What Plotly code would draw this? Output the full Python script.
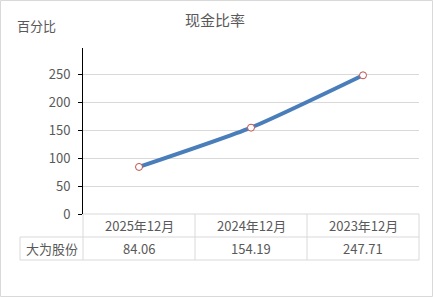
import plotly.graph_objects as go

categories = ["2025年12月", "2024年12月", "2023年12月"]
values = [84.06, 154.19, 247.71]
series_name = "大为股份"
title_text = "现金比率"
y_title = "百分比"
y_ticks = [0, 50, 100, 150, 200, 250]

W, H = 433, 297
L, R, T, B = 83, 14, 48, 83
PW, PH = W - L - R, H - T - B
YMAX = 296.5

FONT = "Noto Sans CJK SC, Microsoft YaHei, sans-serif"
TXT = "#595959"
GRID = "#d9d9d9"

def px_x(p):
    return (p - L) / PW

def px_y(p):
    return (H - B - p) / PH

fig = go.Figure()
fig.add_trace(go.Scatter(
    x=categories, y=values, mode="lines+markers", name=series_name,
    line=dict(color="#4a7ebb", width=4, shape="spline", smoothing=0.6),
    marker=dict(size=7, color="white", line=dict(color="#c0504d", width=1)),
    showlegend=False, hoverinfo="skip",
))

shapes = []
n = len(categories)
row1_top, row1_bot, row2_bot = H - B, H - B + 23, H - B + 46
left_px = 20
line = dict(color=GRID, width=1)
shapes.append(dict(type="line", xref="paper", yref="paper", x0=0, x1=1,
                   y0=px_y(row1_top), y1=px_y(row1_top), line=line))
for yy in (row1_bot, row2_bot):
    shapes.append(dict(type="line", xref="paper", yref="paper", x0=px_x(left_px), x1=1,
                       y0=px_y(yy), y1=px_y(yy), line=line))
for k in range(n + 1):
    shapes.append(dict(type="line", xref="paper", yref="paper", x0=k / n, x1=k / n,
                       y0=px_y(row1_top), y1=px_y(row2_bot), line=line))
shapes.append(dict(type="line", xref="paper", yref="paper", x0=px_x(left_px), x1=px_x(left_px),
                   y0=px_y(row1_bot), y1=px_y(row2_bot), line=line))
shapes.append(dict(type="rect", xref="paper", yref="paper",
                   x0=px_x(0.5), x1=px_x(W - 0.5), y0=px_y(H - 0.5), y1=px_y(0.5),
                   line=dict(color="#d9d9d9", width=1), layer="below"))

annotations = []
for c, v in zip(categories, values):
    annotations.append(dict(x=c, xref="x", y=px_y((row1_top + row1_bot) / 2), yref="paper",
                            text=c, showarrow=False, font=dict(size=13, color=TXT, family=FONT),
                            xanchor="center", yanchor="middle"))
    annotations.append(dict(x=c, xref="x", y=px_y((row1_bot + row2_bot) / 2), yref="paper",
                            text=f"{v:.2f}", showarrow=False, font=dict(size=13, color=TXT, family=FONT),
                            xanchor="center", yanchor="middle"))
annotations.append(dict(x=px_x((left_px + L) / 2), xref="paper", y=px_y((row1_bot + row2_bot) / 2), yref="paper",
                        text=series_name, showarrow=False, font=dict(size=13, color=TXT, family=FONT),
                        xanchor="center", yanchor="middle"))
annotations.append(dict(x=px_x(37), xref="paper", y=px_y(25), yref="paper",
                        text=y_title, showarrow=False, font=dict(size=13, color=TXT, family=FONT),
                        xanchor="center", yanchor="middle"))
annotations.append(dict(x=px_x(215), xref="paper", y=px_y(19), yref="paper",
                        text=title_text, showarrow=False, font=dict(size=15, color=TXT, family=FONT),
                        xanchor="center", yanchor="middle"))

fig.update_layout(
    width=W, height=H, margin=dict(l=L, r=R, t=T, b=B),
    paper_bgcolor="white", plot_bgcolor="white",
    xaxis=dict(type="category", range=[-0.5, n - 0.5], showticklabels=False,
               showgrid=False, showline=False, zeroline=False, ticks=""),
    yaxis=dict(range=[0, YMAX], tickvals=y_ticks, showgrid=True, gridcolor=GRID, gridwidth=1,
               showline=True, linecolor="black", linewidth=1, ticks="outside", ticklen=4,
               tickcolor="black", zeroline=False, ticklabelstandoff=5,
               tickfont=dict(size=13, color=TXT, family=FONT)),
    shapes=shapes, annotations=annotations,
)

fig.write_html("out.html")
